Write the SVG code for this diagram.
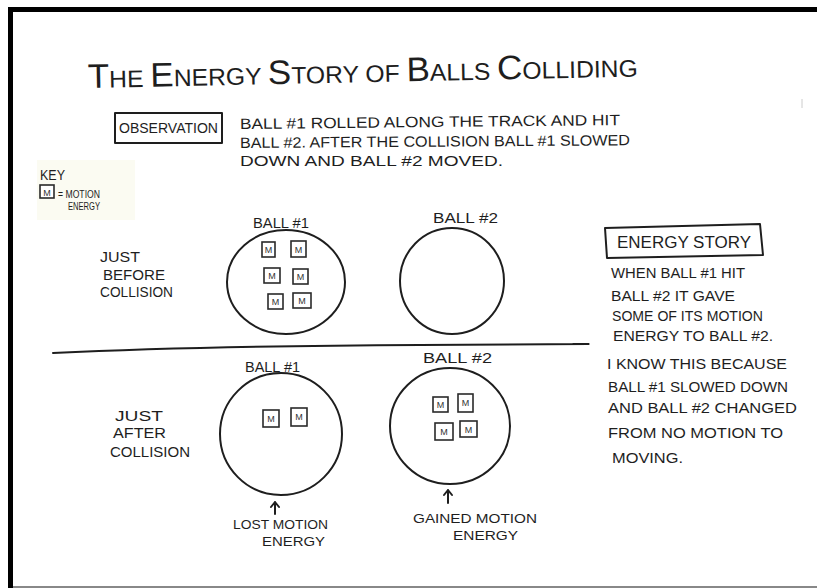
<svg xmlns="http://www.w3.org/2000/svg" width="817" height="588" viewBox="0 0 817 588">
<style>
.t{font-family:"Liberation Sans",Arial,sans-serif;fill:#1e1e1e}
.s{fill:none;stroke:#1e1e1e;stroke-width:2;stroke-linecap:round;stroke-linejoin:round}
.m{fill:#fff;stroke:#2a2a2a;stroke-width:1.6}
.mt{font-family:"Liberation Sans",Arial,sans-serif;fill:#333;font-size:9px;text-anchor:middle}
.b{font-size:15px}
</style>
<rect x="0" y="0" width="817" height="588" fill="#fff"/>
<rect x="37" y="160" width="98" height="60" fill="#fbfbf2"/>
<g id="frame">
<rect x="8" y="7" width="809" height="5" fill="#000"/>
<rect x="8" y="7" width="5" height="581" fill="#000"/>
<rect x="13" y="586" width="804" height="2" fill="#888"/>
<line x1="802" y1="99" x2="802" y2="108" stroke="#ccc" stroke-width="1"/>
</g>
<g id="title">
<text class="t" x="88" y="88" font-size="34" textLength="550" lengthAdjust="spacingAndGlyphs" transform="rotate(-1.2 88 88)">T<tspan font-size="24">HE </tspan>E<tspan font-size="24">NERGY </tspan>S<tspan font-size="24">TORY OF </tspan>B<tspan font-size="24">ALLS </tspan>C<tspan font-size="24">OLLIDING</tspan></text>
</g>
<g id="observation">
<rect class="s" x="115" y="113" width="107" height="30"/>
<text class="t b" x="119" y="133" font-size="14" textLength="99" lengthAdjust="spacingAndGlyphs">OBSERVATION</text>
<text class="t b" x="240" y="129" textLength="380" lengthAdjust="spacingAndGlyphs" transform="rotate(-0.6 240 129)">BALL #1 ROLLED ALONG THE TRACK AND HIT</text>
<text class="t b" x="240" y="148" textLength="390" lengthAdjust="spacingAndGlyphs" transform="rotate(-0.4 240 148)">BALL #2. AFTER THE COLLISION BALL #1 SLOWED</text>
<text class="t b" x="240" y="166" textLength="263" lengthAdjust="spacingAndGlyphs">DOWN  AND  BALL #2  MOVED.</text>
</g>
<g id="key">
<text class="t" x="40" y="180" font-size="14" textLength="25" lengthAdjust="spacingAndGlyphs">KEY</text>
<rect class="m" x="40" y="185" width="14" height="13"/>
<text class="mt" x="47" y="196" font-size="11">M</text>
<text class="t" x="58" y="198" font-size="10" textLength="42" lengthAdjust="spacingAndGlyphs">= MOTION</text>
<text class="t" x="68" y="210" font-size="10" textLength="32" lengthAdjust="spacingAndGlyphs">ENERGY</text>
</g>
<g id="label-before">
<text class="t" x="100" y="262" font-size="14" textLength="40" lengthAdjust="spacingAndGlyphs">JUST</text>
<text class="t" x="103" y="280" font-size="14" textLength="62" lengthAdjust="spacingAndGlyphs">BEFORE</text>
<text class="t" x="100" y="297" font-size="14" textLength="73" lengthAdjust="spacingAndGlyphs">COLLISION</text>
</g>
<g id="ball1-before">
<text class="t" x="253" y="228" font-size="14" textLength="56" lengthAdjust="spacingAndGlyphs">BALL #1</text>
<ellipse class="s" cx="286" cy="282" rx="59" ry="52"/>
<rect class="m" x="262" y="242" width="13" height="15"/><text class="mt" x="268.5" y="253">M</text>
<rect class="m" x="291" y="241" width="15" height="16"/><text class="mt" x="298.5" y="253">M</text>
<rect class="m" x="264" y="268" width="16" height="15"/><text class="mt" x="272" y="279">M</text>
<rect class="m" x="293" y="269" width="15" height="15"/><text class="mt" x="300.5" y="280">M</text>
<rect class="m" x="268" y="294" width="15" height="15"/><text class="mt" x="275.5" y="305">M</text>
<rect class="m" x="293" y="293" width="18" height="15"/><text class="mt" x="302" y="304">M</text>
</g>
<g id="ball2-before">
<text class="t" x="433" y="223" font-size="14" textLength="65" lengthAdjust="spacingAndGlyphs">BALL #2</text>
<ellipse class="s" cx="452" cy="281" rx="52" ry="53"/>
</g>
<g id="divider">
<path class="s" d="M53 353 Q 200 346 420 345 T 573 344"/>
</g>
<g id="energy-story">
<path class="s" d="M605 228 L760 224 L763 255 L607 258 Z"/>
<text class="t" x="617" y="248" font-size="16" textLength="134" lengthAdjust="spacingAndGlyphs">ENERGY  STORY</text>
<text class="t" x="611" y="278" font-size="14" textLength="134" lengthAdjust="spacingAndGlyphs">WHEN BALL #1 HIT</text>
<text class="t" x="611" y="301" font-size="14" textLength="124" lengthAdjust="spacingAndGlyphs">BALL #2 IT GAVE</text>
<text class="t" x="612" y="321" font-size="14" textLength="151" lengthAdjust="spacingAndGlyphs">SOME OF ITS MOTION</text>
<text class="t" x="613" y="341" font-size="14" textLength="160" lengthAdjust="spacingAndGlyphs">ENERGY TO BALL #2.</text>
<text class="t" x="607" y="369" font-size="14" textLength="180" lengthAdjust="spacingAndGlyphs">I KNOW THIS BECAUSE</text>
<text class="t" x="608" y="392" font-size="14" textLength="180" lengthAdjust="spacingAndGlyphs">BALL #1 SLOWED DOWN</text>
<text class="t" x="608" y="413" font-size="14" textLength="189" lengthAdjust="spacingAndGlyphs">AND BALL #2 CHANGED</text>
<text class="t" x="608" y="438" font-size="14" textLength="175" lengthAdjust="spacingAndGlyphs">FROM NO MOTION TO</text>
<text class="t" x="612" y="463" font-size="14" textLength="71" lengthAdjust="spacingAndGlyphs">MOVING.</text>
</g>
<g id="label-after">
<text class="t" x="115" y="421" font-size="14" textLength="48" lengthAdjust="spacingAndGlyphs">JUST</text>
<text class="t" x="113" y="438" font-size="14" textLength="53" lengthAdjust="spacingAndGlyphs">AFTER</text>
<text class="t" x="110" y="457" font-size="14" textLength="80" lengthAdjust="spacingAndGlyphs">COLLISION</text>
</g>
<g id="ball1-after">
<text class="t" x="245" y="372" font-size="14" textLength="55" lengthAdjust="spacingAndGlyphs">BALL #1</text>
<ellipse class="s" cx="281" cy="434" rx="61" ry="61"/>
<rect class="m" x="263" y="410" width="16" height="17"/><text class="mt" x="271" y="422">M</text>
<rect class="m" x="291" y="408" width="16" height="18"/><text class="mt" x="299" y="420">M</text>
<text class="t" x="233" y="529" font-size="13" textLength="95" lengthAdjust="spacingAndGlyphs">LOST MOTION</text>
<text class="t" x="262" y="546" font-size="13" textLength="63" lengthAdjust="spacingAndGlyphs">ENERGY</text>
</g>
<g id="ball2-after">
<text class="t" x="423" y="363" font-size="14" textLength="69" lengthAdjust="spacingAndGlyphs">BALL #2</text>
<ellipse class="s" cx="450" cy="426" rx="60" ry="58"/>
<rect class="m" x="433" y="397" width="15" height="15"/><text class="mt" x="440.5" y="408">M</text>
<rect class="m" x="458" y="394" width="15" height="18"/><text class="mt" x="465.5" y="406">M</text>
<rect class="m" x="435" y="423" width="18" height="17"/><text class="mt" x="444" y="435">M</text>
<rect class="m" x="460" y="421" width="17" height="16"/><text class="mt" x="468.5" y="433">M</text>
<text class="t" x="413" y="523" font-size="13" textLength="124" lengthAdjust="spacingAndGlyphs">GAINED MOTION</text>
<text class="t" x="453" y="540" font-size="13" textLength="65" lengthAdjust="spacingAndGlyphs">ENERGY</text>
</g>
<g id="connectors">
<path class="s" stroke-width="1.6" d="M275 514 L275 502 M271 507 L275 502 L279 507"/>
<path class="s" stroke-width="1.6" d="M448 503 L448 490 M444 495 L448 490 L452 495"/>
</g>
</svg>
